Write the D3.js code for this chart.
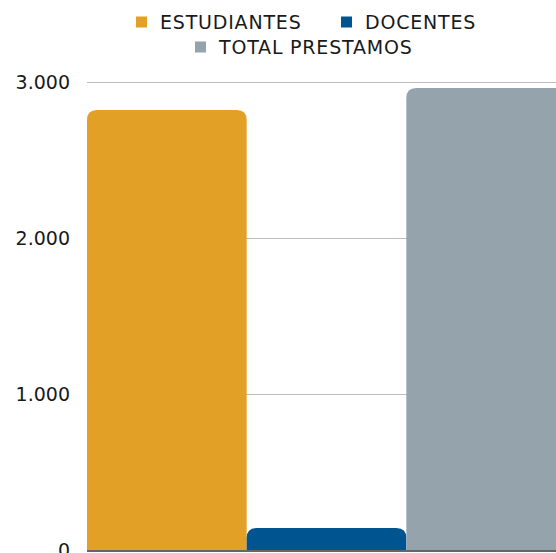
<!DOCTYPE html>
<html>
<head>
<meta charset="utf-8">
<script src="https://cdn.jsdelivr.net/npm/d3@7"></script>
<style>
  body { margin: 0; background: #fff; }
  svg { display: block; font-family: "DejaVu Sans", "Open Sans", sans-serif; }
</style>
</head>
<body>
<svg id="chart" width="556" height="553"></svg>
<script>
// categories / values
var categories = ["ESTUDIANTES", "DOCENTES", "TOTAL PRESTAMOS"];
var values = [2820, 141, 2961];
var colors = ["#e3a026", "#005590", "#95a4ac"];
var yTicks = [0, 1000, 2000, 3000];

var svg = d3.select("#chart");

var x = d3.scaleBand()
    .domain(categories)
    .range([87, 566])
    .padding(0);

var y = d3.scaleLinear()
    .domain([0, 3000])
    .range([550, 82]);

var fmt = function(v){
    return d3.format(",")(v).replace(/,/g, ".");
};

// gridlines
svg.append("g")
    .selectAll("line")
    .data(yTicks.filter(function(d){ return d > 0; }))
    .join("line")
    .attr("x1", 87)
    .attr("x2", 566)
    .attr("y1", function(d){ return y(d) + 0.5; })
    .attr("y2", function(d){ return y(d) + 0.5; })
    .attr("stroke", "#bdbdbd")
    .attr("stroke-width", 1);

// y labels
svg.append("g")
    .selectAll("text")
    .data(yTicks)
    .join("text")
    .attr("x", 70)
    .attr("y", function(d){ return y(d); })
    .attr("dy", "0.36em")
    .attr("text-anchor", "end")
    .attr("font-size", 19)
    .attr("fill", "#1a1a1a")
    .text(fmt);

// bars with rounded top corners
var r = 10;
var barPath = function(d, i){
    var x0 = x(categories[i]), w = x.bandwidth();
    var top = y(d), base = y(0);
    var rr = Math.min(r, (base - top));
    return "M" + x0 + "," + base +
        "V" + (top + rr) +
        "Q" + x0 + "," + top + " " + (x0 + rr) + "," + top +
        "H" + (x0 + w - rr) +
        "Q" + (x0 + w) + "," + top + " " + (x0 + w) + "," + (top + rr) +
        "V" + base + "Z";
};

svg.append("g")
    .selectAll("path")
    .data(values)
    .join("path")
    .attr("d", barPath)
    .attr("fill", function(d, i){ return colors[i]; });

// baseline
svg.append("line")
    .attr("x1", 87)
    .attr("x2", 566)
    .attr("y1", y(0) + 1)
    .attr("y2", y(0) + 1)
    .attr("stroke", "#666")
    .attr("stroke-width", 2);

// legend
var legendRows = [
    [{ i: 0, x: 136 }, { i: 1, x: 341 }],
    [{ i: 2, x: 195 }]
];
var rowY = [22, 47];

legendRows.forEach(function(row, ri){
    var g = svg.append("g");
    row.forEach(function(item){
        g.append("rect")
            .attr("x", item.x)
            .attr("y", rowY[ri] - 5.5)
            .attr("width", 11)
            .attr("height", 11)
            .attr("fill", colors[item.i]);
        g.append("text")
            .attr("x", item.x + 24)
            .attr("y", rowY[ri])
            .attr("dy", "0.36em")
            .attr("font-size", 19)
            .attr("letter-spacing", 0.8)
            .attr("fill", "#1a1a1a")
            .text(categories[item.i]);
    });
});
</script>
</body>
</html>
